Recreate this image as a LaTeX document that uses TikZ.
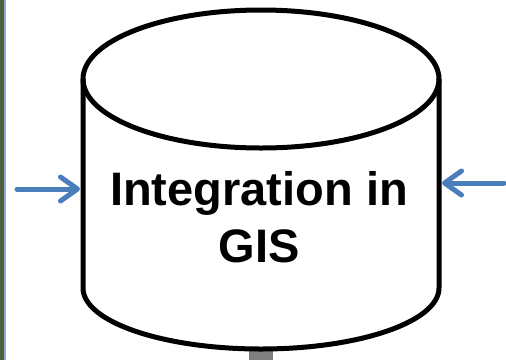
\documentclass[tikz,border=0pt]{standalone}
\usepackage{fontspec}
\setmainfont{Liberation Sans}
\usetikzlibrary{arrows.meta}
\definecolor{feedblue}{HTML}{4A7EBB}
\definecolor{edgegreen}{HTML}{4F5F3F}
\definecolor{edgeblue}{HTML}{8EA9DB}
\tikzset{
  feed/.style={feedblue, line width=5pt, line cap=round,
    -{Straight Barb[length=17pt,width=24pt,line cap=round,line join=round]}},
  drum/.style={line width=5pt}
}

\begin{document}
\begin{tikzpicture}[x=1pt,y=-1pt]
\useasboundingbox (0,0) rectangle (506,360);
% frame strip on the left
\fill[edgegreen] (0,0) rectangle (4,360);
\fill[edgeblue] (4,0) rectangle (5.5,360);
% stub below the drum
\fill[gray] (249,350) rectangle (273,360);
% draws cylinder
\draw[drum, fill=white] (83,79) -- (83,288) arc[start angle=180,end angle=0,x radius=178,y radius=61] -- (439,79);
\draw[drum] (261,79) ellipse[x radius=178,y radius=69];
% side points
\coordinate (drumW) at (80,189);
\coordinate (drumE) at (442,183);
\coordinate (srcW) at (17,189);
\coordinate (srcE) at (504,183);
% label
\node[anchor=base, align=center, font=\bfseries\fontsize{47}{57}\selectfont] (label) at (259,262) {Integration in\\GIS};
% draws arrows
\draw[feed] (srcW) -- (drumW);
\draw[feed] (srcE) -- (drumE);
\end{tikzpicture}
\end{document}
